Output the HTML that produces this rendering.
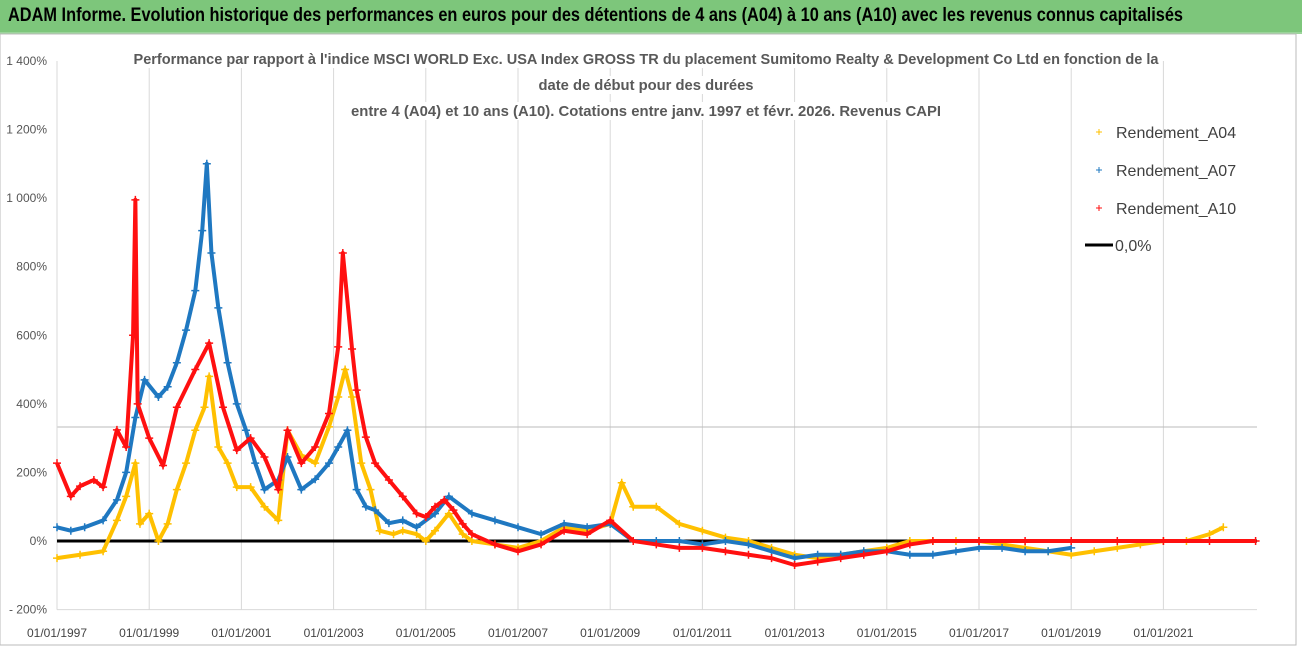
<!DOCTYPE html>
<html><head><meta charset="utf-8"><style>
body{margin:0;background:#fff;font-family:"Liberation Sans",sans-serif;}
#wrap{position:relative;width:1302px;height:647px;overflow:hidden;background:#fff}
#hdr{position:absolute;left:0;top:0;width:1302px;height:32px;background:#7dc67b;border-bottom:2px solid #9bd49a}
#hdr span{position:absolute;left:8px;top:5px;font-size:19px;color:#000;transform:scaleX(0.86);transform-origin:left;white-space:nowrap;font-weight:bold}
svg{position:absolute;left:0;top:0}
</style></head><body>
<div id="wrap">
<div id="hdr"><span>ADAM Informe. Evolution historique des performances en euros pour des détentions de 4 ans (A04) à 10 ans (A10) avec les revenus connus capitalisés</span></div>
<svg id="chart" width="1302" height="647"></svg>
</div>
<script>
const yTicks=[1400,1200,1000,800,600,400,200,0,-200];
const yTickLabels=["1 400%","1 200%","1 000%","800%","600%","400%","200%","0%","- 200%"];
const xTickYears=[1997,1999,2001,2003,2005,2007,2009,2011,2013,2015,2017,2019,2021];
const a04Dates=[1997,1997.5,1998,1998.3,1998.5,1998.7,1998.8,1999,1999.2,1999.4,1999.6,1999.8,2000,2000.2,2000.3,2000.5,2000.7,2000.9,2001.2,2001.5,2001.8,2002,2002.3,2002.6,2002.9,2003.1,2003.25,2003.4,2003.6,2003.8,2004,2004.3,2004.5,2004.8,2005,2005.2,2005.5,2005.8,2006,2006.5,2007,2007.5,2008,2008.5,2009,2009.25,2009.5,2010,2010.5,2011,2011.5,2012,2012.5,2013,2013.5,2014,2014.5,2015,2015.5,2016,2016.5,2017,2017.5,2018,2018.5,2019,2019.5,2020,2020.5,2021,2021.5,2022,2022.3];
const a04Values=[-50,-40,-30,60,130,227,50,80,0,50,150,227,323,390,480,274,227,157,157,100,60,323,250,227,333,420,500,420,227,150,30,20,30,20,0,30,80,20,0,-10,-20,0,40,30,50,170,100,100,50,30,10,0,-20,-40,-50,-40,-30,-20,0,0,0,0,-10,-20,-30,-40,-30,-20,-10,0,0,20,40];
const a07Dates=[1997,1997.3,1997.6,1998,1998.3,1998.5,1998.7,1998.9,1999.2,1999.4,1999.6,1999.8,2000,2000.15,2000.25,2000.35,2000.5,2000.7,2000.9,2001.1,2001.3,2001.5,2001.8,2002,2002.3,2002.6,2002.9,2003.1,2003.3,2003.5,2003.7,2003.9,2004.2,2004.5,2004.8,2005.2,2005.5,2006,2006.5,2007,2007.5,2008,2008.5,2009,2009.5,2010,2010.5,2011,2011.5,2012,2012.5,2013,2013.5,2014,2014.5,2015,2015.5,2016,2016.5,2017,2017.5,2018,2018.5,2019];
const a07Values=[40,30,40,60,120,200,360,470,420,450,520,615,730,905,1100,840,680,520,400,323,227,150,178,245,150,180,227,274,323,150,100,90,52,60,40,80,130,80,60,40,20,50,40,50,0,0,0,-10,0,-10,-30,-50,-40,-40,-30,-30,-40,-40,-30,-20,-20,-30,-30,-20];
const a10Dates=[1997,1997.3,1997.5,1997.8,1998,1998.3,1998.5,1998.65,1998.7,1998.75,1999,1999.3,1999.6,2000,2000.3,2000.6,2000.9,2001.2,2001.5,2001.8,2002,2002.3,2002.6,2002.9,2003.1,2003.2,2003.4,2003.5,2003.7,2003.9,2004.2,2004.5,2004.8,2005,2005.2,2005.4,2005.6,2005.8,2006,2006.5,2007,2007.5,2008,2008.5,2009,2009.5,2010,2010.5,2011,2011.5,2012,2012.5,2013,2013.5,2014,2014.5,2015,2015.5,2016,2017,2018,2019,2020,2021,2022,2023];
const a10Values=[227,130,160,178,157,324,274,600,995,400,300,220,390,500,577,390,265,300,245,150,323,227,274,372,566,840,560,440,303,227,178,130,80,70,100,120,90,50,20,-10,-30,-10,30,20,60,0,-10,-20,-20,-30,-40,-50,-70,-60,-50,-40,-30,-10,0,0,0,0,0,0,0,0];
const svg=document.getElementById('chart');const NS='http://www.w3.org/2000/svg';
const X0=57,X1=1257,Y0=541;
function xs(y){return X0+(y-1997)*46.1;}
function ys(v){return Y0-v*0.3429;}
function mk(t,a,p){const e=document.createElementNS(NS,t);for(const k in a)e.setAttribute(k,a[k]);(p||svg).appendChild(e);return e;}
let r=mk('rect',{x:0,y:34,width:1296,height:611,fill:'#fff',stroke:'#bbb'});


xTickYears.forEach(y=>{let l=mk('line',{x1:xs(y),x2:xs(y),y1:ys(1400),y2:ys(-200),stroke:'#d9d9d9'});


let t=mk('text',{x:xs(y),y:637,'font-size':12,'text-anchor':'middle',fill:'#444'});t.textContent='01/01/'+y;

});
let hl=mk('line',{x1:X0,x2:X1,y1:427,y2:427,stroke:'#bbb'});


let ax=mk('line',{x1:X0,x2:X0,y1:ys(1400),y2:ys(-200),stroke:'#d9d9d9'});


let bx=mk('line',{x1:X0,x2:X1,y1:ys(-200),y2:ys(-200),stroke:'#d9d9d9'});


yTicks.forEach((v,i)=>{let t=mk('text',{x:47,y:ys(v)+4,'font-size':12,'text-anchor':'end',fill:'#555'});t.textContent=yTickLabels[i];

});
const titles=["Performance par rapport à l'indice MSCI WORLD Exc. USA Index GROSS TR  du placement Sumitomo Realty & Development Co Ltd en fonction de la","date de début pour des durées","entre 4 (A04) et 10 ans (A10). Cotations entre janv. 1997 et févr. 2026. Revenus CAPI"];
[[646,64],[646,90],[646,116]].forEach((p,i)=>{let t=mk('rect',{x:p[0]-(i==0?515:i==1?110:300),y:p[1]-14,width:i==0?1030:i==1?220:600,height:18,fill:'#fff'});


let tx=mk('text',{x:p[0],y:p[1],'font-size':15,'font-weight':'bold','text-anchor':'middle',fill:'#595959',textLength:i==0?1025:i==1?215:590,lengthAdjust:'spacingAndGlyphs'});tx.textContent=titles[i];

});
function series(d,v,c,name){const g=mk('g',{});


mk('polyline',{points:d.map((x,i)=>xs(x)+','+ys(v[i])).join(' '),fill:'none',stroke:c,'stroke-width':4,'stroke-linejoin':'round'},g);
d.forEach((x,i)=>{const px=xs(x),py=ys(v[i]);const p=mk('path',{d:`M${px-4},${py}h8M${px},${py-4}v8`,stroke:c,'stroke-width':1.5},g);

});}
let z=mk('line',{x1:X0,x2:X1,y1:Y0,y2:Y0,stroke:'#000','stroke-width':3});


series(a04Dates,a04Values,'#FFC000','series-a04');
series(a07Dates,a07Values,'#1f78c1','series-a07');
series(a10Dates,a10Values,'#ff1010','series-a10');
const legNames=["Rendement_A04","Rendement_A07","Rendement_A10","0,0%"];const legCols=['#FFC000','#1f78c1','#ff1010','#000'];
legNames.forEach((n,i)=>{const y=[132,170,208,245][i];
if(i<3){let m=mk('path',{d:`M${1096},${y}h6M${1099},${y-3}v6`,stroke:legCols[i],'stroke-width':1});

}
else{let m=mk('line',{x1:1085,x2:1113,y1:y,y2:y,stroke:'#000','stroke-width':3});

}
let t=mk('text',{x:i<3?1116:1115,y:y+6,'font-size':16,fill:'#404040'});t.textContent=n;

});
</script>
</body></html>
